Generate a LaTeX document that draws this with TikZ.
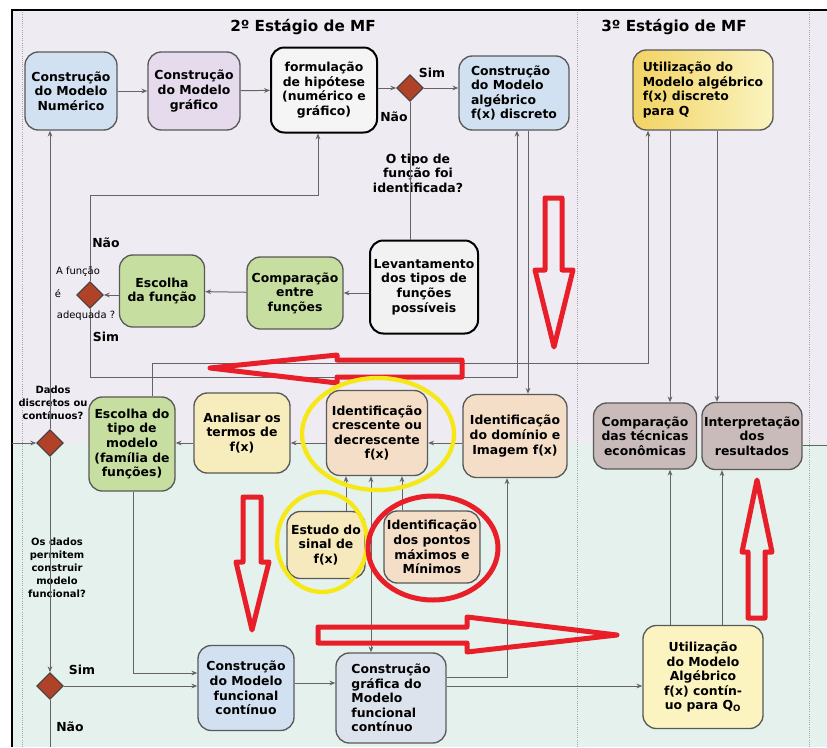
\documentclass[tikz,border=0pt]{standalone}
\usepackage{fontspec}
\setsansfont{DejaVu Sans}
\usetikzlibrary{shapes.geometric, arrows.meta}

\definecolor{laneTop}{RGB}{239,235,242}
\definecolor{laneBot}{RGB}{229,241,236}
\definecolor{boxBlue}{RGB}{210,225,241}
\definecolor{boxLilac}{RGB}{229,219,236}
\definecolor{boxGreen}{RGB}{198,223,160}
\definecolor{boxSand}{RGB}{246,236,188}
\definecolor{boxPeach}{RGB}{244,222,200}
\definecolor{boxMauve}{RGB}{201,187,185}
\definecolor{boxGold}{RGB}{242,211,98}
\definecolor{boxCream}{RGB}{251,244,192}
\definecolor{boxSteel}{RGB}{221,227,237}
\definecolor{gateRed}{RGB}{176,66,40}
\definecolor{lineGray}{RGB}{100,100,100}
\definecolor{markRed}{RGB}{232,30,40}
\definecolor{markYellow}{RGB}{246,232,24}

\begin{document}
\begin{tikzpicture}[
    x=0.3mm, y=-0.3mm,
    font={\sffamily\bfseries\fontsize{10.6}{12.4}\selectfont},
    task/.style={rectangle, draw=black!65, line width=0.4mm, rounded corners=4mm, align=center, inner sep=1pt},
    gate/.style={diamond, draw=black!75, fill=gateRed, minimum size=8mm, inner sep=0pt, line width=0.3mm},
    flow/.style={-{Stealth[length=5pt, width=4pt]}, draw=lineGray, line width=0.3mm},
    link/.style={draw=lineGray, line width=0.3mm},
    lane/.style={draw=gray!70, densely dotted, line width=0.3mm},
    markup/.style={draw=markRed, line width=1.5mm, line join=round},
    ring/.style={draw=markYellow, line width=1.3mm},
    small/.style={align=center, font={\sffamily\bfseries\fontsize{8.5}{11.2}\selectfont}}
]

% Lanes
\useasboundingbox (0,0) rectangle (827,747);
\fill[white] (0,0) rectangle (827,747);
\fill[laneTop] (12,10) rectangle (827,443);
\fill[laneBot] (12,443) rectangle (827,747);
\draw[lane] (22,10) -- (22,747);
\draw[lane] (577,10) -- (577,747);
\draw[lane] (809,10) -- (809,747);
\draw[black, line width=0.5mm] (12,747) -- (12,10) -- (827,10);

% Stage titles
\node[font={\sffamily\bfseries\fontsize{13}{16}\selectfont}] (stage2) at (303,27) {2º Estágio de MF};
\node[font={\sffamily\bfseries\fontsize{13}{16}\selectfont}] (stage3) at (674,27) {3º Estágio de MF};

% Upper lane tasks
\node[task, fill=boxBlue, minimum width=27.6mm, minimum height=23.4mm] (numerico) at (71,91) {Construção\\do Modelo\\Numérico};
\node[task, fill=boxLilac, minimum width=27.6mm, minimum height=23.4mm] (grafico) at (194,91) {Construção\\do Modelo\\gráfico};
\node[task, fill=white!96!black, draw=black, line width=0.6mm, minimum width=31.8mm, minimum height=25.5mm] (hipotese) at (324,90) {formulação\\de hipótese\\(numérico e\\gráfico)};
\node[gate] (d1) at (410,88) {};
\node[task, fill=boxBlue, minimum width=33mm, minimum height=22.2mm, align=left] (algebrico) at (514,93) {Construção\\do Modelo\\algébrico\\f(x) discreto};
\node[task, left color=boxGold, right color=boxCream, minimum width=42mm, minimum height=24mm, align=left] (utilQ) at (703,90) {Utilização do\\Modelo algébrico\\f(x) discreto\\para Q};

\node[align=center] (pergunta) at (418,173) {O tipo de\\função foi\\identificada?};
\node[task, fill=white!95!black, draw=black, line width=0.6mm, minimum width=32.4mm, minimum height=27.9mm] (levantamento) at (424,287) {Levantamento\\dos tipos de\\funções\\possíveis};
\node[task, fill=boxGreen, minimum width=28.8mm, minimum height=21.6mm] (comparacao) at (295,293) {Comparação\\entre\\funções};
\node[task, fill=boxGreen, minimum width=25.5mm, minimum height=21.6mm] (escolhaF) at (162,291) {Escolha\\da função};
\node[gate] (d2) at (90,295) {};

% Middle row tasks
\node[small] (dados) at (53,403) {Dados\\discretos ou\\contínuos?};
\node[gate] (d3) at (50,443) {};
\node[task, fill=boxGreen, minimum width=25.8mm, minimum height=28.2mm] (escolhaTipo) at (132,444) {Escolha do\\tipo de\\modelo\\(família de\\funções)};
\node[task, fill=boxSand, minimum width=28.8mm, minimum height=24mm] (analisar) at (242,433) {Analisar os\\termos de\\f(x)};
\node[task, fill=boxPeach, minimum width=30.3mm, minimum height=25.5mm] (crescente) at (377,433) {Identificação\\crescente ou\\decrescente\\f(x)};
\node[task, fill=boxPeach, minimum width=31.2mm, minimum height=24.9mm] (dominio) at (515,436) {Identificação\\do domínio e\\Imagem f(x)};
\node[task, fill=boxMauve, minimum width=30.9mm, minimum height=19.8mm] (comparTec) at (645,436) {Comparação\\das técnicas\\econômicas};
\node[task, fill=boxMauve, minimum width=30mm, minimum height=20.1mm] (interp) at (752,436) {Interpretação\\dos\\resultados};
\node[task, fill=boxSand!80!boxPeach, minimum width=23.4mm, minimum height=20.1mm] (sinal) at (326,545) {Estudo do\\sinal de\\f(x)};
\node[task, fill=boxPeach, minimum width=28.8mm, minimum height=21.6mm] (maximos) at (432,547) {Identificação\\dos pontos\\máximos e\\Mínimos};

% Lower lane tasks
\node[small] (permitem) at (57,568) {Os dados\\permitem\\construir\\modelo\\funcional?};
\node[gate] (d4) at (50,686) {};
\node[task, fill=boxBlue, minimum width=28.8mm, minimum height=25.5mm] (funcCont) at (246,688) {Construção\\do Modelo\\funcional\\contínuo};
\node[task, fill=boxSteel, minimum width=33mm, minimum height=27mm, align=left] (grafCont) at (391,698) {Construção\\gráfica do\\Modelo\\funcional\\contínuo};
\node[task, fill=boxCream, minimum width=36mm, minimum height=30.9mm] (utilQo) at (703,677) {Utilização\\do Modelo\\Algébrico\\f(x) contín-\\uo para Q\textsubscript{O}};

% Bend points
\coordinate (cHip) at (318,195);
\coordinate (cAlg) at (517,377);
\coordinate (cTipo) at (152,363);
\coordinate (cUtil) at (648,363);
\coordinate (cDom) at (528,250);
\coordinate (cTec) at (670,250);
\coordinate (cInt) at (717,250);
\coordinate (cIntB) at (722,550);
\coordinate (cRow) at (0,443);
\coordinate (cIn) at (12,443);
\coordinate (cOut) at (827,445);
\coordinate (cEnd) at (50,747);
\coordinate (cFunc) at (133,673);
\coordinate (cImg) at (507,677);
\coordinate (cSinal) at (346,500);
\coordinate (cMax) at (402,500);
\coordinate (cGraf) at (371,600);

% Arrows
\draw[flow] (numerico) -- (grafico);
\draw[flow] (grafico) -- (hipotese);
\draw[flow] (hipotese.east |- d1) -- (d1);
\draw[flow] (d1) -- (d1 -| algebrico.west);
\draw[link] (d1) -- (d1 |- levantamento.north);
\draw[flow] (levantamento.west |- comparacao) -- (comparacao);
\draw[flow] (comparacao) -- (escolhaF);
\draw[flow] (escolhaF.west |- d2) -- (d2);
\draw[flow] (d2) |- (cHip) -- (cHip |- hipotese.south);
\draw[flow] (d2) |- (cAlg) -- (cAlg |- algebrico.south);
\draw[flow] (cTipo |- escolhaTipo.north) -- (cTipo) -- (cUtil) -- (cUtil |- utilQ.south);
\draw[flow] (cDom |- algebrico.south) -- (cDom |- dominio.north);
\draw[flow] (cTec |- utilQ.south) -- (cTec |- comparTec.north);
\draw[flow] (cInt |- utilQ.south) -- (cInt |- interp.north);
\draw[link] (interp.east |- cOut) -- (cOut);

\draw[flow] (dominio.west |- cRow) -- (crescente.east |- cRow);
\draw[flow] (crescente.west |- cRow) -- (analisar.east |- cRow);
\draw[flow] (analisar.west |- cRow) -- (escolhaTipo.east |- cRow);
\draw[flow] (cIn) -- (d3);
\draw[flow] (d3) -- (d3 |- numerico.south);
\draw[flow] (d3) -- (d4);
\draw[flow] (sinal.north -| cSinal) -- (cSinal |- crescente.south);
\draw[flow] (maximos.north -| cMax) -- (cMax |- crescente.south);
\draw[flow, {Stealth[length=5pt, width=4pt]}-{Stealth[length=5pt, width=4pt]}] (cGraf |- crescente.south) -- (cGraf |- grafCont.north);

\draw[flow] (d4) -- (d4 -| funcCont.west);
\draw[link] (d4) -- (cEnd);
\draw[flow] (cFunc |- escolhaTipo.south) -- (cFunc) -- (cFunc -| funcCont.west);
\draw[flow] (funcCont.east |- 0,683) -- (grafCont.west |- 0,683);
\draw[flow] (grafCont.east |- 0,686) -- (utilQo.west |- 0,686);
\draw[flow] (grafCont.east |- cImg) -- (cImg) -- (cImg |- dominio.south);
\draw[flow] (cTec |- utilQo.north) -- (cTec |- comparTec.south);
\draw[flow] (cIntB |- utilQo.north) -- (cIntB |- interp.south);

% Gate labels
\node (sim1) at (432,73) {Sim};
\node (nao1) at (394,117) {Não};
\node (nao2) at (106,243) {Não};
\node (sim2) at (106,337) {Sim};
\node (sim4) at (82,670) {Sim};
\node (nao4) at (70,727) {Não};
\node[font={\sffamily\fontsize{8.5}{10}\selectfont}] (adq1) at (78,272) {A função};
\node[font={\sffamily\fontsize{8.5}{10}\selectfont}] (adq2) at (58,294) {é};
\node[font={\sffamily\fontsize{8.5}{10}\selectfont}] (adq3) at (86,316) {adequada ?};

% Red and yellow marks
\draw[markup] (545,198) -- (562,198) -- (562,270) -- (573,270) -- (554,347) -- (535,270) -- (545,270) -- cycle;
\draw[markup] (462,360) -- (462,377) -- (337,377) -- (337,383) -- (210,368) -- (337,355) -- (337,360) -- cycle;
\draw[markup] (243,497) -- (261,497) -- (261,562) -- (269,562) -- (252,630) -- (236,562) -- (243,562) -- cycle;
\draw[markup] (318,627) -- (467,627) -- (467,617) -- (617,635) -- (467,652) -- (467,643) -- (318,643) -- cycle;
\draw[markup] (748,618) -- (765,618) -- (765,552) -- (772,552) -- (757,480) -- (742,552) -- (748,552) -- cycle;
\draw[ring] (378,434) ellipse [x radius=22.8mm, y radius=16.8mm];
\draw[ring] (322,542) ellipse [x radius=13.5mm, y radius=15mm];
\draw[markup] (433,548) ellipse [x radius=19.5mm, y radius=15.6mm];

\end{tikzpicture}
\end{document}
